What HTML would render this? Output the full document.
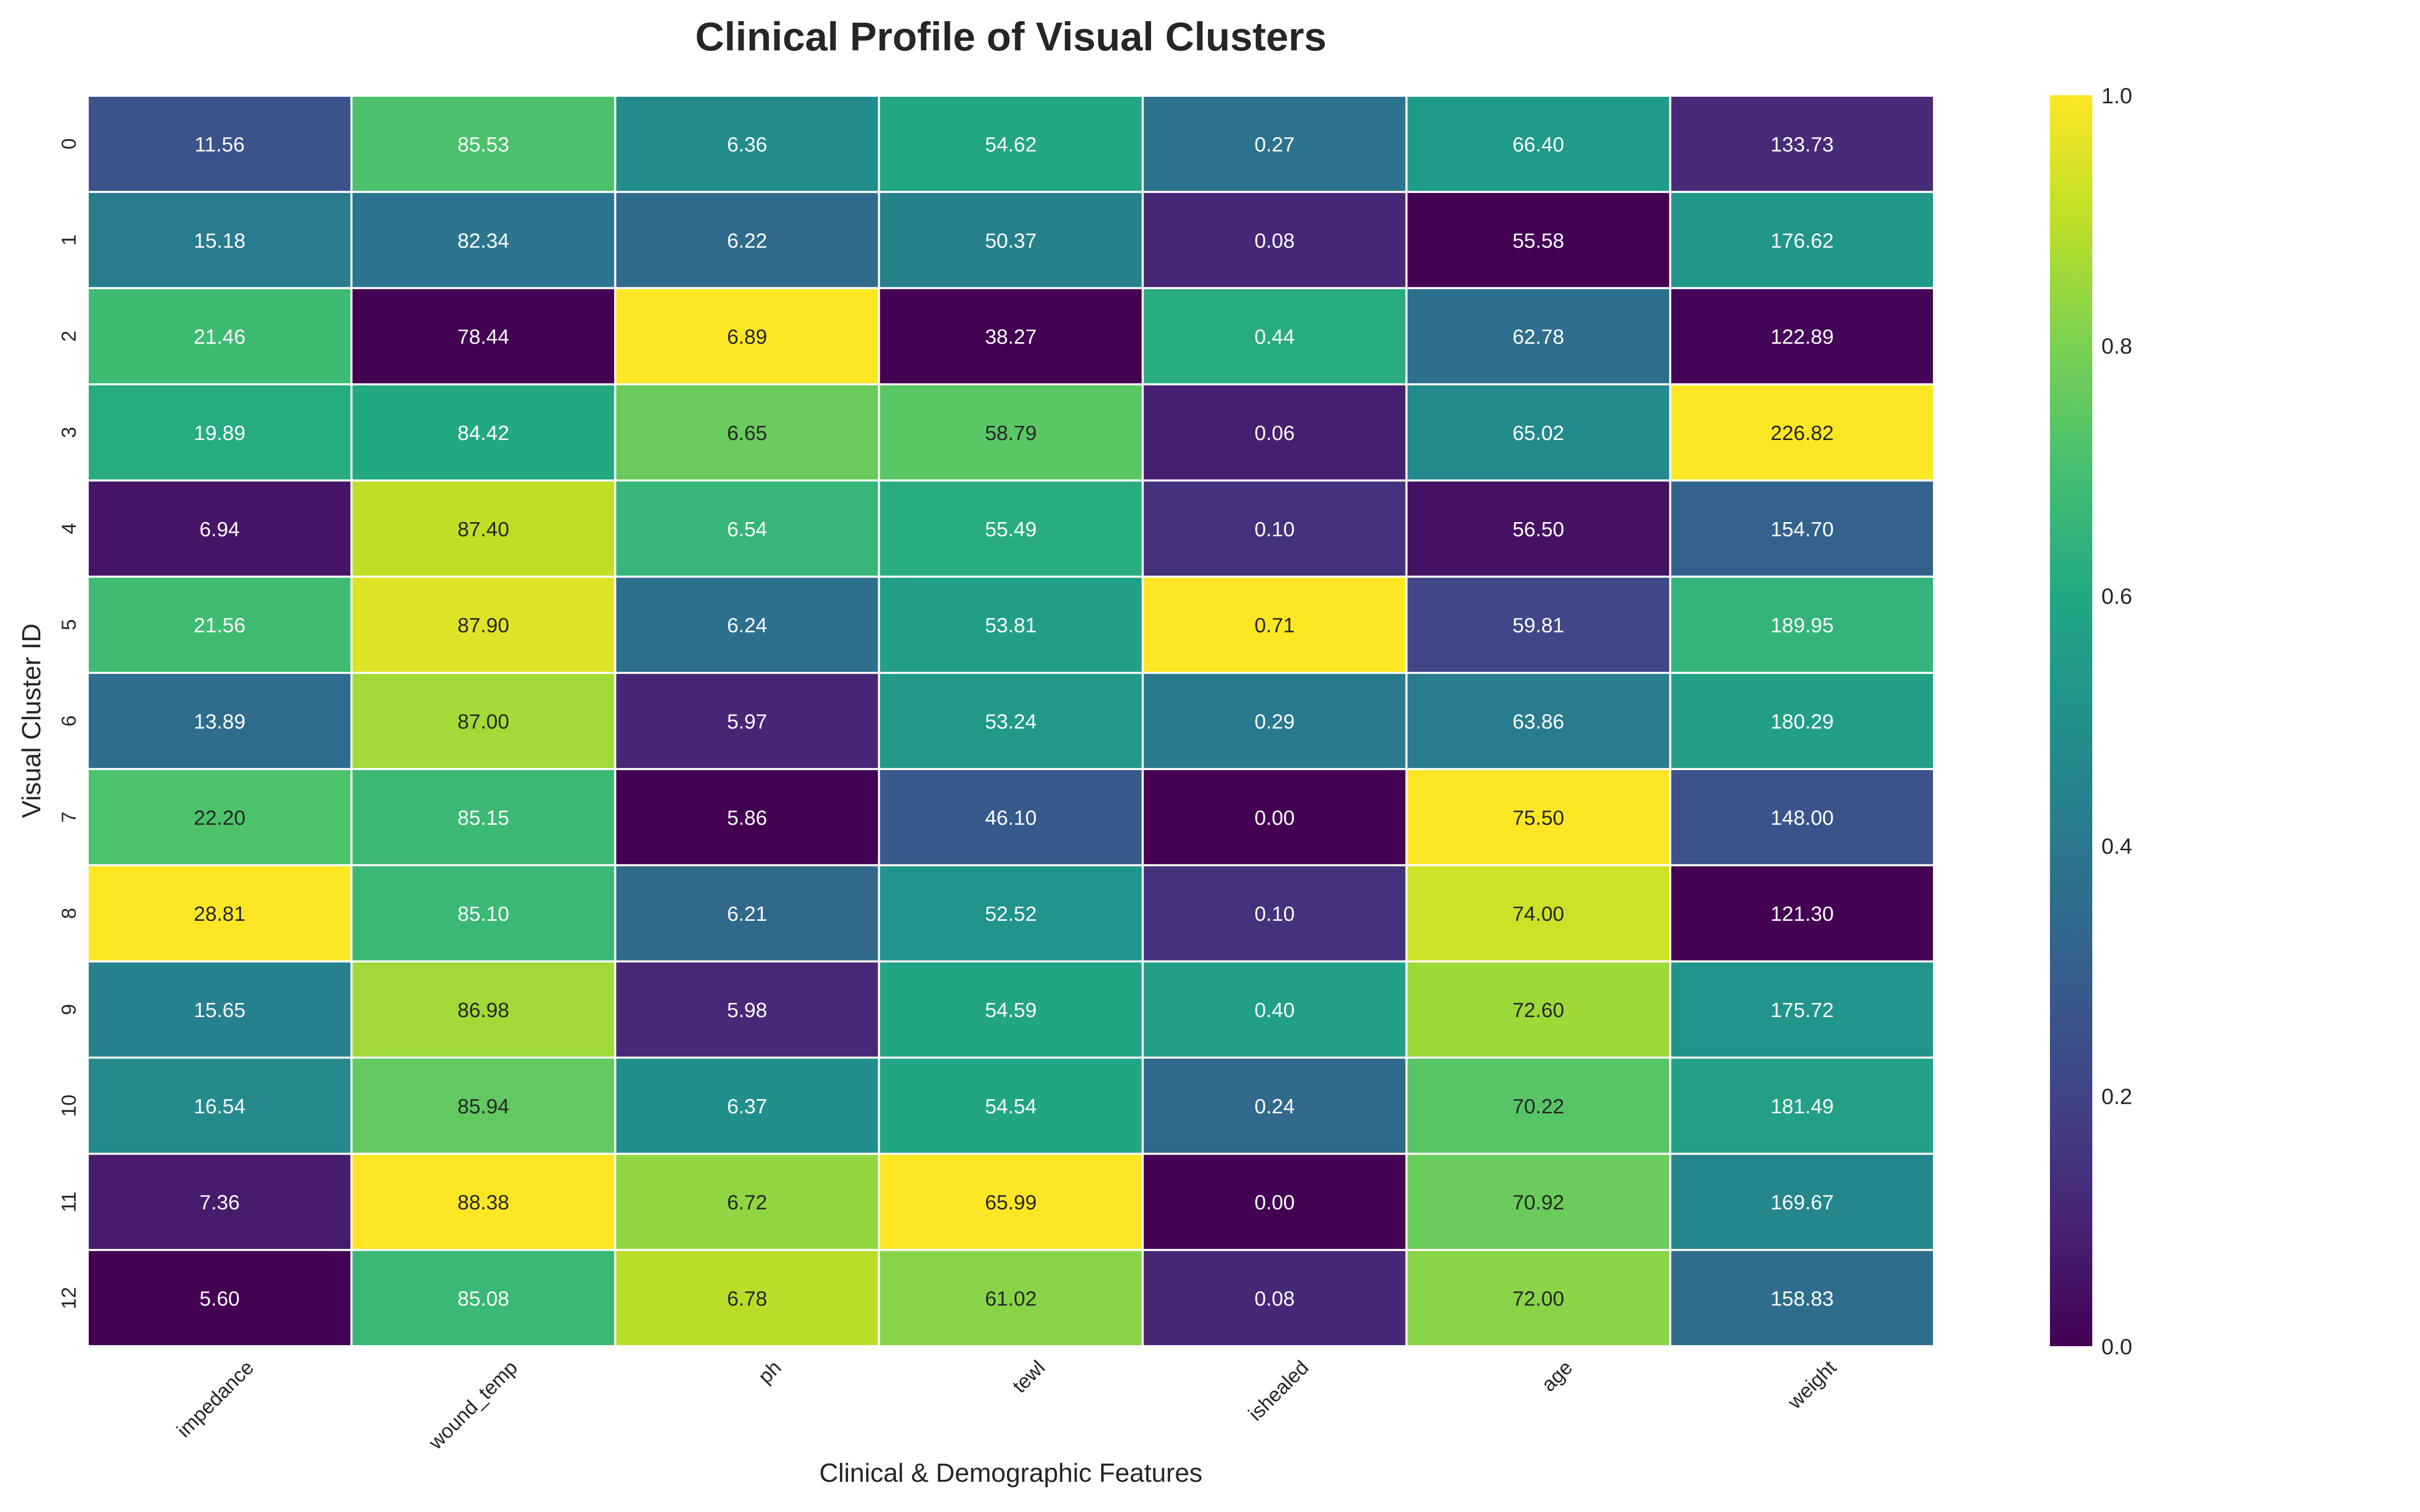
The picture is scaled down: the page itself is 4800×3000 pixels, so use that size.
<!DOCTYPE html>
<html><head><meta charset="utf-8">
<style>
html,body{margin:0;padding:0;background:#fff;}
svg{display:block;font-family:"Liberation Sans",Arial,sans-serif;}
</style></head>
<body>
<svg id="chart" width="4800" height="3000" viewBox="0 0 4800 3000" xmlns="http://www.w3.org/2000/svg">
<rect width="4800" height="3000" fill="#fff"/>
<text x="2005" y="100" text-anchor="middle" font-size="80" font-weight="bold" fill="#262626">Clinical Profile of Visual Clusters</text>
<text x="0" y="0" transform="translate(80,1430) rotate(-90)" text-anchor="middle" font-size="52" fill="#262626">Visual Cluster ID</text>
<text x="2005" y="2940" text-anchor="middle" font-size="52" fill="#262626">Clinical &amp; Demographic Features</text>
<g id="cells"></g>
<g id="xticks"></g>
<g id="yticks"></g>
<defs><linearGradient id="vir" x1="0" y1="1" x2="0" y2="0"></linearGradient></defs>
<rect x="4066" y="189" width="84" height="2482" fill="url(#vir)"/>
<g id="cbticks"></g>
</svg>
<script>
const features = ["impedance","wound_temp","ph","tewl","ishealed","age","weight"];
const clusters = ["0","1","2","3","4","5","6","7","8","9","10","11","12"];
const impedance = [11.56,15.18,21.46,19.89,6.94,21.56,13.89,22.20,28.81,15.65,16.54,7.36,5.60];
const woundTemp = [85.53,82.34,78.44,84.42,87.40,87.90,87.00,85.15,85.10,86.98,85.94,88.38,85.08];
const ph = [6.36,6.22,6.89,6.65,6.54,6.24,5.97,5.86,6.21,5.98,6.37,6.72,6.78];
const tewl = [54.62,50.37,38.27,58.79,55.49,53.81,53.24,46.10,52.52,54.59,54.54,65.99,61.02];
const ishealed = [0.27,0.08,0.44,0.06,0.10,0.71,0.29,0.00,0.10,0.40,0.24,0.00,0.08];
const age = [66.40,55.58,62.78,65.02,56.50,59.81,63.86,75.50,74.00,72.60,70.22,70.92,72.00];
const weight = [133.73,176.62,122.89,226.82,154.70,189.95,180.29,148.00,121.30,175.72,181.49,169.67,158.83];
const cbTicks = [0.0,0.2,0.4,0.6,0.8,1.0];

const columns = [impedance,woundTemp,ph,tewl,ishealed,age,weight];
const L=174, T=190, W=3662, H=2481;
const cw=W/features.length, rh=H/clusters.length;
const xPos = i => L + cw*i;
const yPos = j => T + rh*j;
const vir = [[68,1,84],[72,36,117],[65,68,135],[53,95,141],[42,120,142],[33,145,140],[34,168,132],[68,191,112],[122,209,81],[189,223,38],[253,231,37]];
function viridis(t){
  t=Math.max(0,Math.min(1,t)); const p=t*10, i=Math.min(9,Math.floor(p)), f=p-i;
  return vir[i].map((c,k)=>Math.round(c+(vir[i+1][k]-c)*f));
}
function lum(c){const l=c.map(v=>{v/=255;return v<=0.03928?v/12.92:Math.pow((v+0.055)/1.055,2.4);});return 0.2126*l[0]+0.7152*l[1]+0.0722*l[2];}
const NS="http://www.w3.org/2000/svg";
const cells=document.getElementById('cells');
columns.forEach((col,i)=>{
  const mn=Math.min(...col), mx=Math.max(...col);
  col.forEach((v,j)=>{
    const t=(v-mn)/(mx-mn||1); const c=viridis(t);
    const r=document.createElementNS(NS,'rect');
    
    
    r.setAttribute('x',xPos(i)); r.setAttribute('y',yPos(j));
    r.setAttribute('width',cw); r.setAttribute('height',rh);
    r.setAttribute('fill',`rgb(${c})`); r.setAttribute('stroke','#fff'); r.setAttribute('stroke-width','4');
    cells.appendChild(r);
    const tx=document.createElementNS(NS,'text');
    
    
    tx.setAttribute('x',xPos(i)+cw/2); tx.setAttribute('y',yPos(j)+rh/2+15);
    tx.setAttribute('text-anchor','middle'); tx.setAttribute('font-size','41');
    tx.setAttribute('fill',lum(c)>0.408?'#262626':'#ffffff');
    tx.textContent=v.toFixed(2); cells.appendChild(tx);
  });
});
const xt=document.getElementById('xticks');
features.forEach((f,i)=>{
  const cx=xPos(i)+cw/2;
  const tx=document.createElementNS(NS,'text');
  
  
  tx.setAttribute('text-anchor','end'); tx.setAttribute('font-size','40'); tx.setAttribute('fill','#262626');
  tx.setAttribute('transform',`translate(${cx+70},${T+H+45}) rotate(-45)`);
  tx.textContent=f; xt.appendChild(tx);
});
const yt=document.getElementById('yticks');
clusters.forEach((c,j)=>{
  const cy=yPos(j)+rh/2;
  const tx=document.createElementNS(NS,'text');
  
  
  tx.setAttribute('text-anchor','middle'); tx.setAttribute('font-size','40'); tx.setAttribute('fill','#262626');
  tx.setAttribute('transform',`translate(150,${cy}) rotate(-90)`);
  tx.textContent=c; yt.appendChild(tx);
});
const g=document.getElementById('vir');
vir.forEach((c,k)=>{const s=document.createElementNS(NS,'stop');s.setAttribute('offset',k/10);s.setAttribute('stop-color',`rgb(${c})`);g.appendChild(s);});
const cb=document.getElementById('cbticks');
cbTicks.forEach(v=>{
  const y=189+2482*(1-v);
  const tx=document.createElementNS(NS,'text');
  
  
  tx.setAttribute('x',4168); tx.setAttribute('y',y+16); tx.setAttribute('font-size','44'); tx.setAttribute('fill','#262626');
  tx.textContent=v.toFixed(1); cb.appendChild(tx);
});
</script>
</body></html>
